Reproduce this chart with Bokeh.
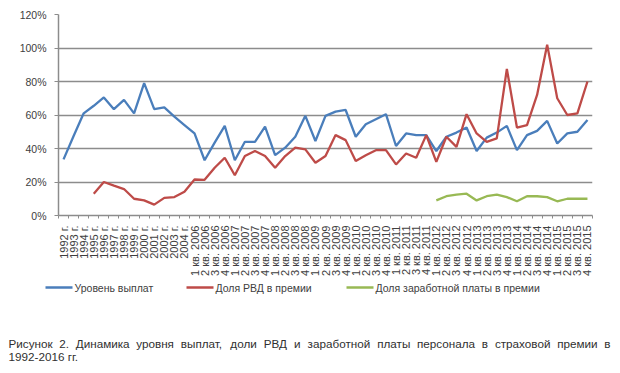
from bokeh.plotting import figure
from bokeh.models import Range1d, FixedTicker
from bokeh.layouts import column
from bokeh.core.properties import value
from bokeh.embed import file_html
from bokeh.resources import INLINE

# ---- data -----------------------------------------------------------------
years = ["1992 г.", "1993 г.", "1994 г.", "1995 г.", "1996 г.", "1997 г.",
         "1998 г.", "1999 г.", "2000 г.", "2001 г.", "2002 г.", "2003 г.",
         "2004 г."]
quarter_years = ["2006", "2007", "2008", "2009", "2010", "2011", "2012",
                 "2013", "2014", "2015"]
quarter_nums = ["1", "2", "3", "4"]
categories = years + [f"{q} кв. {y}" for y in quarter_years for q in quarter_nums]

payout_level = [33.5, 47.5, 61, 65.5, 70.5, 63.5, 69, 61, 79, 63.5, 64.5, 59,
                54, 49, 33, 43.5, 53.5, 33, 44, 44, 53, 36, 40.5, 47, 59.5,
                44.5, 59.5, 62, 63, 47, 54.5, 57.5, 60.5, 41.5, 49, 48, 48,
                38.5, 47, 49.5, 52.5, 38.5, 46.5, 49.5, 53.5, 39, 48, 50.5,
                56.5, 43, 49, 50, 57]
rvd_share = [None, None, None, 13, 20, 17.8, 15.8, 10, 9, 6.5, 10.5, 11,
             14.2, 21.5, 21.3, 28.5, 34.5, 24, 35.5, 38.5, 35.5, 28.5, 35.5,
             40.5, 39.5, 31.5, 35.5, 48, 45, 32.5, 36, 39, 39, 30.5, 37, 34.5,
             48, 32, 47, 41, 60.5, 49, 44, 46, 87.5, 52.5, 54, 72, 102, 70,
             60, 61, 80]
salary_share = [None] * 37 + [9, 11.5, 12.5, 13, 9, 11.5, 12.5, 11, 8.5, 11.5,
                              11.5, 11, 8.5, 10, 10, 10]

y_ticks = [0, 20, 40, 60, 80, 100, 120]

legend_names = ["Уровень выплат", "Доля РВД в премии",
                "Доля заработной платы в премии"]
caption_lines = ["Рисунок 2. Динамика уровня выплат, доли РВД и заработной платы "
                 "персонала в страховой премии в",
                 "1992-2016 гг."]

# ---- chart ----------------------------------------------------------------
n = len(categories)
xs = list(range(n))
nan = float("nan")

blue = "#4a7ebb"
red = "#be4b48"
green = "#98b954"
axis_color = "#8c8c8c"
text_color = "#404040"
font = "Liberation Sans"

p = figure(width=620, height=278, output_backend="svg", toolbar_location=None,
           x_range=Range1d(-0.5, n - 0.5), y_range=Range1d(0, 120),
           min_border_left=58, min_border_right=28, min_border_top=14,
           min_border_bottom=61)
p.frame_align = False
p.outline_line_color = None

p.xaxis.ticker = FixedTicker(ticks=xs, minor_ticks=[i - 0.5 for i in range(n + 1)])
p.xaxis.major_label_overrides = {i: c for i, c in enumerate(categories)}
p.xaxis.major_label_orientation = 1.5708
p.xaxis.major_label_text_font = font
p.xaxis.major_label_text_font_size = "11px"
p.xaxis.major_label_text_color = text_color
p.xaxis.major_label_standoff = 4
p.xaxis.major_tick_line_color = None
p.xaxis.minor_tick_line_color = axis_color
p.xaxis.minor_tick_out = 3
p.xaxis.minor_tick_in = 0
p.xaxis.axis_line_color = axis_color
p.xaxis.axis_line_width = 1.5

p.yaxis.ticker = FixedTicker(ticks=y_ticks)
p.yaxis.major_label_overrides = {t: f"{t}%" for t in y_ticks}
p.yaxis.major_label_text_font = font
p.yaxis.major_label_text_font_size = "10.5px"
p.yaxis.major_label_text_color = text_color
p.yaxis.major_label_standoff = 8
p.yaxis.major_tick_out = 4
p.yaxis.major_tick_in = 0
p.yaxis.major_tick_line_color = axis_color
p.yaxis.minor_tick_line_color = None
p.yaxis.axis_line_color = axis_color
p.yaxis.axis_line_width = 1.5

p.xgrid.grid_line_color = None
p.ygrid.ticker = FixedTicker(ticks=y_ticks)
p.ygrid.grid_line_color = "#8c8c8c"
p.ygrid.grid_line_width = 1.3

p.line(xs, payout_level, line_color=blue, line_width=2.3)
p.line(xs, [nan if v is None else v for v in rvd_share], line_color=red, line_width=2.3)
p.line(xs, [nan if v is None else v for v in salary_share], line_color=green, line_width=2.3)

# ---- legend + caption panel ----------------------------------------------
H2 = 95
q = figure(width=620, height=H2, output_backend="svg", toolbar_location=None,
           x_range=Range1d(0, 620), y_range=Range1d(H2, 0),
           min_border=0, x_axis_type=None, y_axis_type=None)
q.frame_align = False
q.outline_line_color = None
q.grid.grid_line_color = None

leg_line_x0 = [45, 186, 346]
leg_y = 9
for name, col, x0 in zip(legend_names, [blue, red, green], leg_line_x0):
    q.segment(x0=[x0], y0=[leg_y], x1=[x0 + 27], y1=[leg_y], line_color=col,
              line_width=2.3)
    q.text(x=[x0 + 29], y=[leg_y], text=[name], text_font=value(font),
           text_font_size="10.5px", text_color=text_color, text_baseline="middle",
           text_align="left")

# approximate Arial / Liberation Sans advance widths (per 1000 em) for justification
adv = {" ": 278, ".": 278, ",": 278, "-": 333, "Р": 667, "Д": 688, "В": 667,
       "а": 556, "б": 573, "в": 531, "г": 365, "д": 583, "е": 556, "ж": 669,
       "з": 458, "и": 559, "й": 559, "к": 438, "л": 583, "м": 688, "н": 552,
       "о": 556, "п": 542, "р": 556, "с": 500, "т": 458, "у": 500, "ф": 823,
       "х": 500, "ц": 573, "ч": 521, "ш": 802, "щ": 823, "ъ": 625, "ы": 719,
       "ь": 521, "э": 510, "ю": 750, "я": 542}
cap_size = 11.7


def text_width(s):
    return sum(adv.get(ch, 556) for ch in s) * cap_size / 1000


cap_left, cap_right = 8, 610
words = caption_lines[0].split(" ")
widths = [text_width(w) for w in words]
gap = (cap_right - cap_left - sum(widths)) / (len(words) - 1)
half = len(words) // 2
lx, ly_text, rx, ry_text = [], [], [], []
pos = cap_left
for w, wd in zip(words[:half], widths[:half]):
    lx.append(pos)
    ly_text.append(w)
    pos += wd + gap
pos = cap_right
for w, wd in zip(reversed(words[half:]), reversed(widths[half:])):
    rx.append(pos)
    ry_text.append(w)
    pos -= wd + gap

cap_y1, cap_y2 = 65, 78
q.text(x=lx, y=[cap_y1] * len(lx), text=ly_text, text_font=value(font),
       text_font_size=f"{cap_size}px", text_color="#303030",
       text_baseline="middle", text_align="left")
q.text(x=rx, y=[cap_y1] * len(rx), text=ry_text, text_font=value(font),
       text_font_size=f"{cap_size}px", text_color="#303030",
       text_baseline="middle", text_align="right")
q.text(x=[cap_left], y=[cap_y2], text=[caption_lines[1]], text_font=value(font),
       text_font_size=f"{cap_size}px", text_color="#303030",
       text_baseline="middle", text_align="left")

layout = column(p, q, spacing=0)
open("out.html", "w").write(file_html(layout, INLINE))
